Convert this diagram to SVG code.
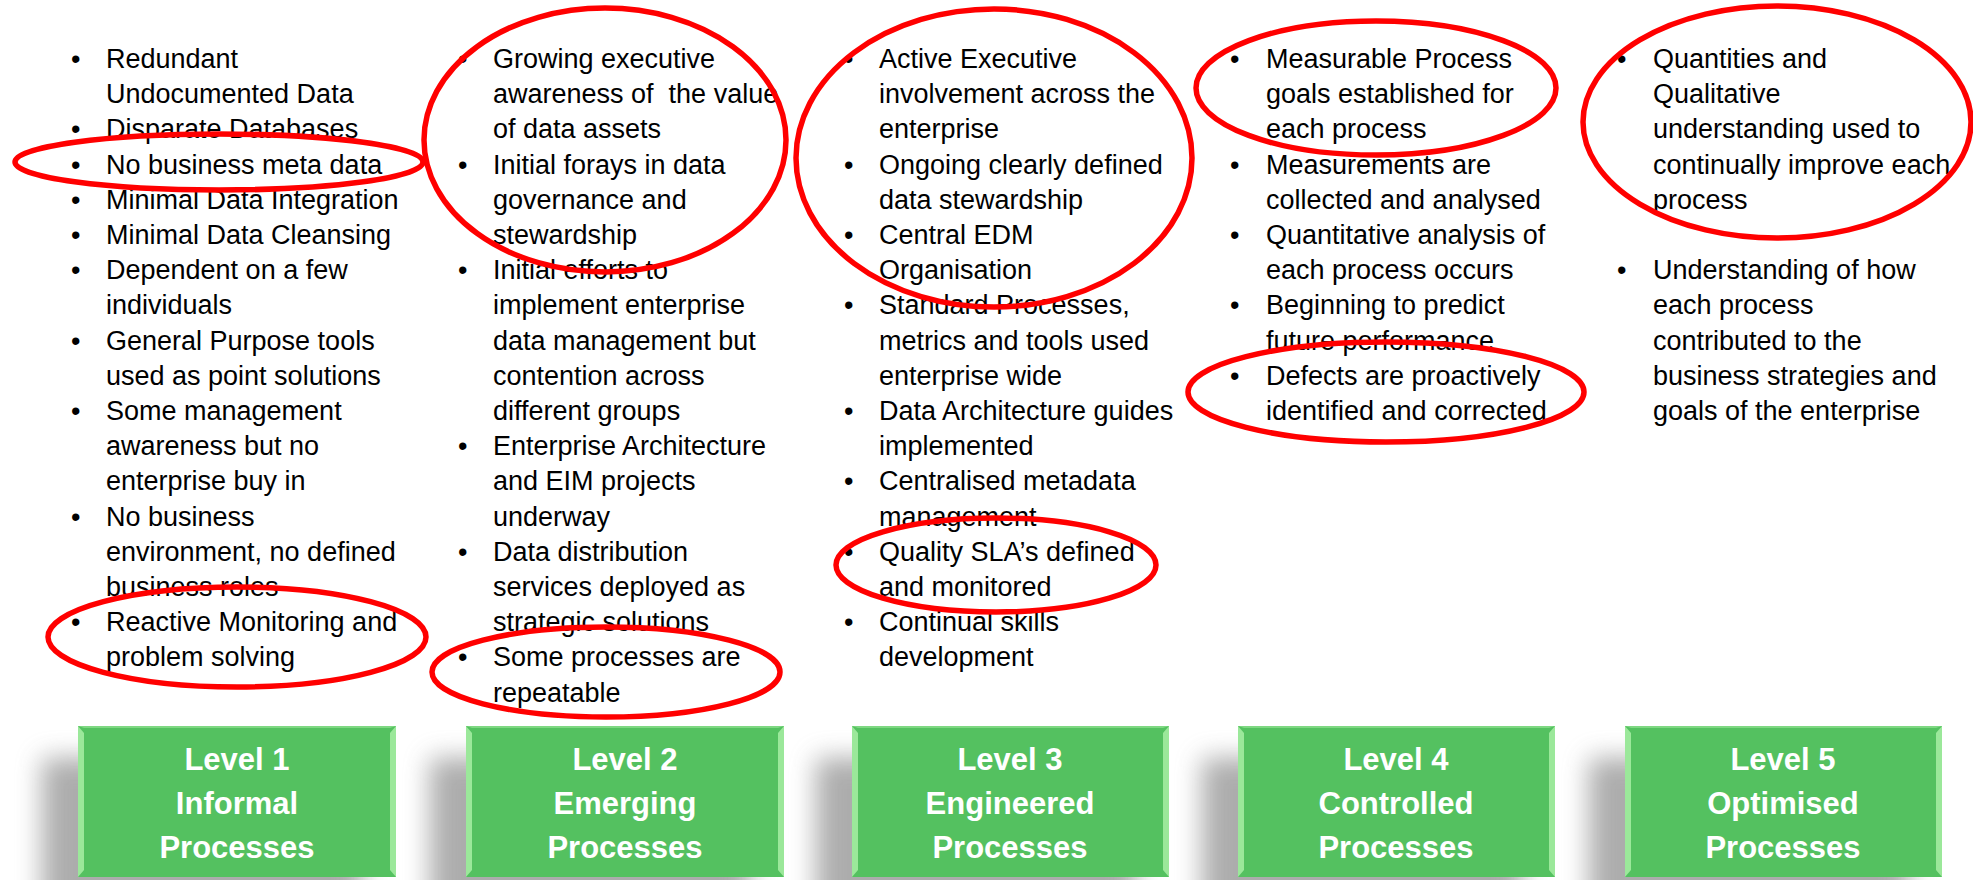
<svg xmlns="http://www.w3.org/2000/svg" width="1973" height="880" viewBox="0 0 1973 880">
<style>
.t{font-family:"Liberation Sans",Arial,sans-serif;font-size:27px;fill:#000;white-space:pre}
.b{font-family:"Liberation Sans",Arial,sans-serif;font-size:27px;fill:#000}
.lv{font-family:"Liberation Sans",Arial,sans-serif;font-size:31px;font-weight:bold;fill:#fff;text-anchor:middle}
.ring{fill:none;stroke:#FF0000;stroke-width:5.5}
.box{fill:#54C160}
.bev{fill:#9BE89A}
.shd{fill:#7a7a7a;opacity:0.62}
</style>
<defs>
<filter id="blur" x="-50%" y="-50%" width="200%" height="200%"><feGaussianBlur stdDeviation="13"/></filter>
</defs>
<rect width="1973" height="880" fill="#fff"/>

<g id="col1">
<text class="b" x="71" y="68">•</text>
<text class="b" x="71" y="138.4">•</text>
<text class="b" x="71" y="173.6">•</text>
<text class="b" x="71" y="208.8">•</text>
<text class="b" x="71" y="244">•</text>
<text class="b" x="71" y="279.2">•</text>
<text class="b" x="71" y="349.6">•</text>
<text class="b" x="71" y="420">•</text>
<text class="b" x="71" y="525.6">•</text>
<text class="b" x="71" y="631.2">•</text>
<text class="t" x="106" y="68">Redundant</text>
<text class="t" x="106" y="103.2">Undocumented Data</text>
<text class="t" x="106" y="138.4">Disparate Databases</text>
<text class="t" x="106" y="173.6">No business meta data</text>
<text class="t" x="106" y="208.8">Minimal Data Integration</text>
<text class="t" x="106" y="244">Minimal Data Cleansing</text>
<text class="t" x="106" y="279.2">Dependent on a few</text>
<text class="t" x="106" y="314.4">individuals</text>
<text class="t" x="106" y="349.6">General Purpose tools</text>
<text class="t" x="106" y="384.8">used as point solutions</text>
<text class="t" x="106" y="420">Some management</text>
<text class="t" x="106" y="455.2">awareness but no</text>
<text class="t" x="106" y="490.4">enterprise buy in</text>
<text class="t" x="106" y="525.6">No business</text>
<text class="t" x="106" y="560.8">environment, no defined</text>
<text class="t" x="106" y="596">business roles</text>
<text class="t" x="106" y="631.2">Reactive Monitoring and</text>
<text class="t" x="106" y="666.4">problem solving</text>
</g>

<g id="col2">
<text class="b" x="458" y="68">•</text>
<text class="b" x="458" y="173.6">•</text>
<text class="b" x="458" y="279.2">•</text>
<text class="b" x="458" y="455.2">•</text>
<text class="b" x="458" y="560.8">•</text>
<text class="b" x="458" y="666.4">•</text>
<text class="t" x="493" y="68">Growing executive</text>
<text class="t" x="493" y="103.2">awareness of  the value</text>
<text class="t" x="493" y="138.4">of data assets</text>
<text class="t" x="493" y="173.6">Initial forays in data</text>
<text class="t" x="493" y="208.8">governance and</text>
<text class="t" x="493" y="244">stewardship</text>
<text class="t" x="493" y="279.2">Initial efforts to</text>
<text class="t" x="493" y="314.4">implement enterprise</text>
<text class="t" x="493" y="349.6">data management but</text>
<text class="t" x="493" y="384.8">contention across</text>
<text class="t" x="493" y="420">different groups</text>
<text class="t" x="493" y="455.2">Enterprise Architecture</text>
<text class="t" x="493" y="490.4">and EIM projects</text>
<text class="t" x="493" y="525.6">underway</text>
<text class="t" x="493" y="560.8">Data distribution</text>
<text class="t" x="493" y="596">services deployed as</text>
<text class="t" x="493" y="631.2">strategic solutions</text>
<text class="t" x="493" y="666.4">Some processes are</text>
<text class="t" x="493" y="701.6">repeatable</text>
</g>

<g id="col3">
<text class="b" x="844" y="68">•</text>
<text class="b" x="844" y="173.6">•</text>
<text class="b" x="844" y="244">•</text>
<text class="b" x="844" y="314.4">•</text>
<text class="b" x="844" y="420">•</text>
<text class="b" x="844" y="490.4">•</text>
<text class="b" x="844" y="560.8">•</text>
<text class="b" x="844" y="631.2">•</text>
<text class="t" x="879" y="68">Active Executive</text>
<text class="t" x="879" y="103.2">involvement across the</text>
<text class="t" x="879" y="138.4">enterprise</text>
<text class="t" x="879" y="173.6">Ongoing clearly defined</text>
<text class="t" x="879" y="208.8">data stewardship</text>
<text class="t" x="879" y="244">Central EDM</text>
<text class="t" x="879" y="279.2">Organisation</text>
<text class="t" x="879" y="314.4">Standard Processes,</text>
<text class="t" x="879" y="349.6">metrics and tools used</text>
<text class="t" x="879" y="384.8">enterprise wide</text>
<text class="t" x="879" y="420">Data Architecture guides</text>
<text class="t" x="879" y="455.2">implemented</text>
<text class="t" x="879" y="490.4">Centralised metadata</text>
<text class="t" x="879" y="525.6">management</text>
<text class="t" x="879" y="560.8">Quality SLA’s defined</text>
<text class="t" x="879" y="596">and monitored</text>
<text class="t" x="879" y="631.2">Continual skills</text>
<text class="t" x="879" y="666.4">development</text>
</g>

<g id="col4">
<text class="b" x="1230" y="68">•</text>
<text class="b" x="1230" y="173.6">•</text>
<text class="b" x="1230" y="244">•</text>
<text class="b" x="1230" y="314.4">•</text>
<text class="b" x="1230" y="384.8">•</text>
<text class="t" x="1266" y="68">Measurable Process</text>
<text class="t" x="1266" y="103.2">goals established for</text>
<text class="t" x="1266" y="138.4">each process</text>
<text class="t" x="1266" y="173.6">Measurements are</text>
<text class="t" x="1266" y="208.8">collected and analysed</text>
<text class="t" x="1266" y="244">Quantitative analysis of</text>
<text class="t" x="1266" y="279.2">each process occurs</text>
<text class="t" x="1266" y="314.4">Beginning to predict</text>
<text class="t" x="1266" y="349.6">future performance</text>
<text class="t" x="1266" y="384.8">Defects are proactively</text>
<text class="t" x="1266" y="420">identified and corrected</text>
</g>

<g id="col5">
<text class="b" x="1617" y="68">•</text>
<text class="b" x="1617" y="279.2">•</text>
<text class="t" x="1653" y="68">Quantities and</text>
<text class="t" x="1653" y="103.2">Qualitative</text>
<text class="t" x="1653" y="138.4">understanding used to</text>
<text class="t" x="1653" y="173.6">continually improve each</text>
<text class="t" x="1653" y="208.8">process</text>
<text class="t" x="1653" y="279.2">Understanding of how</text>
<text class="t" x="1653" y="314.4">each process</text>
<text class="t" x="1653" y="349.6">contributed to the</text>
<text class="t" x="1653" y="384.8">business strategies and</text>
<text class="t" x="1653" y="420">goals of the enterprise</text>
</g>

<g id="highlights">
<ellipse class="ring" cx="219" cy="162" rx="204" ry="28"/>
<ellipse class="ring" cx="237" cy="637" rx="189" ry="50"/>
<ellipse class="ring" cx="605" cy="140" rx="181" ry="132"/>
<ellipse class="ring" cx="606" cy="672" rx="174" ry="45"/>
<ellipse class="ring" cx="994" cy="158" rx="198" ry="149"/>
<ellipse class="ring" cx="996" cy="565" rx="160" ry="47"/>
<ellipse class="ring" cx="1376" cy="88" rx="180" ry="67"/>
<ellipse class="ring" cx="1386" cy="392" rx="198" ry="50"/>
<ellipse class="ring" cx="1777" cy="122" rx="194" ry="116"/>
</g>

<g id="level1">
<rect class="shd" x="42" y="758" width="320" height="160" filter="url(#blur)"/>
<rect class="box" x="78" y="726" width="318" height="151"/>
<polygon class="bev" points="78,726 84,733 84,870 78,877"/>
<polygon class="bev" points="396,726 390,733 390,870 396,877"/>
<polygon class="bev" points="78,726 396,726 390,728 84,728" opacity="0.6"/>
<text class="lv" x="237" y="770">Level 1</text>
<text class="lv" x="237" y="814">Informal</text>
<text class="lv" x="237" y="858">Processes</text>
</g>
<g id="level2">
<rect class="shd" x="430" y="758" width="320" height="160" filter="url(#blur)"/>
<rect class="box" x="466" y="726" width="318" height="151"/>
<polygon class="bev" points="466,726 472,733 472,870 466,877"/>
<polygon class="bev" points="784,726 778,733 778,870 784,877"/>
<polygon class="bev" points="466,726 784,726 778,728 472,728" opacity="0.6"/>
<text class="lv" x="625" y="770">Level 2</text>
<text class="lv" x="625" y="814">Emerging</text>
<text class="lv" x="625" y="858">Processes</text>
</g>
<g id="level3">
<rect class="shd" x="816" y="758" width="320" height="160" filter="url(#blur)"/>
<rect class="box" x="852" y="726" width="317" height="151"/>
<polygon class="bev" points="852,726 858,733 858,870 852,877"/>
<polygon class="bev" points="1169,726 1163,733 1163,870 1169,877"/>
<polygon class="bev" points="852,726 1169,726 1163,728 858,728" opacity="0.6"/>
<text class="lv" x="1010" y="770">Level 3</text>
<text class="lv" x="1010" y="814">Engineered</text>
<text class="lv" x="1010" y="858">Processes</text>
</g>
<g id="level4">
<rect class="shd" x="1202" y="758" width="320" height="160" filter="url(#blur)"/>
<rect class="box" x="1238" y="726" width="317" height="151"/>
<polygon class="bev" points="1238,726 1244,733 1244,870 1238,877"/>
<polygon class="bev" points="1555,726 1549,733 1549,870 1555,877"/>
<polygon class="bev" points="1238,726 1555,726 1549,728 1244,728" opacity="0.6"/>
<text class="lv" x="1396" y="770">Level 4</text>
<text class="lv" x="1396" y="814">Controlled</text>
<text class="lv" x="1396" y="858">Processes</text>
</g>
<g id="level5">
<rect class="shd" x="1589" y="758" width="320" height="160" filter="url(#blur)"/>
<rect class="box" x="1625" y="726" width="317" height="151"/>
<polygon class="bev" points="1625,726 1631,733 1631,870 1625,877"/>
<polygon class="bev" points="1942,726 1936,733 1936,870 1942,877"/>
<polygon class="bev" points="1625,726 1942,726 1936,728 1631,728" opacity="0.6"/>
<text class="lv" x="1783" y="770">Level 5</text>
<text class="lv" x="1783" y="814">Optimised</text>
<text class="lv" x="1783" y="858">Processes</text>
</g>
<g id="connectors"/>
</svg>
